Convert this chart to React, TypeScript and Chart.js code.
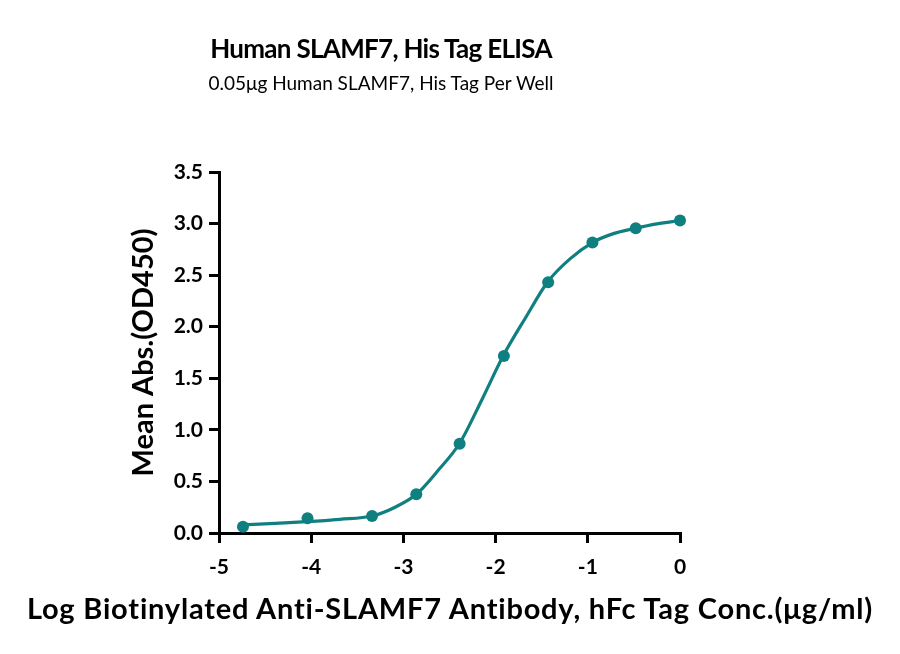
import { useEffect, useRef } from 'react'
import { Chart, registerables } from 'chart.js'

Chart.register(...registerables)

// measured points (log conc, mean OD450)
const logConc = [-4.74, -4.04, -3.34, -2.86, -2.39, -1.91, -1.43, -0.95, -0.48, 0]
const meanAbs = [0.061, 0.143, 0.165, 0.375, 0.866, 1.717, 2.432, 2.816, 2.955, 3.029]

// fitted curve
const fitX = [-4.74, -4.39, -4.05, -3.69, -3.34, -3.09, -2.86, -2.62, -2.39, -2.15, -1.92, -1.68, -1.43, -1.19, -0.95, -0.73, -0.48, -0.25, 0]
const fitY = [0.078, 0.094, 0.11, 0.133, 0.165, 0.25, 0.375, 0.61, 0.87, 1.29, 1.714, 2.08, 2.44, 2.66, 2.816, 2.9, 2.955, 2.997, 3.03]

const xTicks = [-5, -4, -3, -2, -1, 0]
const yTicks = [0, 0.5, 1, 1.5, 2, 2.5, 3, 3.5]

const TEAL = '#0f7f80'
const FONT = 'Lato, sans-serif'

export default function App() {
  const canvasRef = useRef<HTMLCanvasElement>(null)
  const chartRef = useRef<any>(null)

  useEffect(() => {
    if (!canvasRef.current) return
    if (chartRef.current) chartRef.current.destroy()

    const axisLine = { color: '#000', width: 3 }
    const tickMarks = { drawOnChartArea: false, drawTicks: true, tickLength: 10, color: '#000', lineWidth: 3 }
    const tickFont = { family: FONT, size: 21, weight: 'bold' as const }

    chartRef.current = new Chart(canvasRef.current, {
      type: 'scatter',
      data: {
        datasets: [
          {
            label: 'Fit',
            data: fitX.map((x, i) => ({ x, y: fitY[i] })),
            showLine: true,
            borderColor: TEAL,
            borderWidth: 3.2,
            pointRadius: 0,
            cubicInterpolationMode: 'monotone',
            clip: false,
          },
          {
            label: 'Mean Abs.',
            data: logConc.map((x, i) => ({ x, y: meanAbs[i] })),
            backgroundColor: TEAL,
            borderColor: TEAL,
            pointRadius: 6,
            pointBorderWidth: 0,
            clip: false,
          },
        ],
      },
      options: {
        animation: false,
        responsive: true,
        maintainAspectRatio: false,
        layout: { padding: { left: 0, right: 220, top: 172, bottom: 0 } },
        plugins: {
          legend: { display: false },
          tooltip: { enabled: false },
        },
        scales: {
          x: {
            type: 'linear',
            min: -5,
            max: 0,
            afterFit: (s: any) => { s.height = 121 },
            afterBuildTicks: (s: any) => { s.ticks = xTicks.map(v => ({ value: v })) },
            border: axisLine,
            grid: tickMarks,
            ticks: { color: '#000', font: tickFont, padding: 12, callback: (v: any) => String(v) },
          },
          y: {
            min: 0,
            max: 3.5,
            afterFit: (s: any) => { s.width = 219 },
            afterBuildTicks: (s: any) => { s.ticks = yTicks.map(v => ({ value: v })) },
            border: axisLine,
            grid: tickMarks,
            ticks: { color: '#000', font: tickFont, padding: 6, callback: (v: any) => Number(v).toFixed(1) },
            title: {
              display: true,
              text: 'Mean Abs.(OD450)',
              color: '#000',
              font: { family: FONT, size: 29, weight: 'bold' },
              padding: { top: 126, bottom: 0 },
            },
          },
        },
      },
    })

    return () => {
      if (chartRef.current) chartRef.current.destroy()
      chartRef.current = null
    }
  }, [])

  return (
    <div style={{ position: 'absolute', left: 0, top: 0, width: 900, height: 654, background: '#fff', fontFamily: FONT, color: '#000' }}>
      <div style={{ position: 'absolute', left: 0, width: 762, top: 32, lineHeight: '32px', fontSize: 26, fontWeight: 'bold', letterSpacing: '-0.7px', textAlign: 'center' }}>
        Human SLAMF7, His Tag ELISA
      </div>
      <div style={{ position: 'absolute', left: 0, width: 762, top: 71, lineHeight: '24px', fontSize: 19, textAlign: 'center' }}>
        0.05μg Human SLAMF7, His Tag Per Well
      </div>
      <canvas ref={canvasRef} />
      <div style={{ position: 'absolute', left: 0, width: 900, top: 591, lineHeight: '34px', fontSize: 29, fontWeight: 'bold', letterSpacing: '0.8px', textAlign: 'center', whiteSpace: 'nowrap' }}>
        Log Biotinylated Anti-SLAMF7 Antibody, hFc Tag Conc.(μg/ml)
      </div>
    </div>
  )
}
